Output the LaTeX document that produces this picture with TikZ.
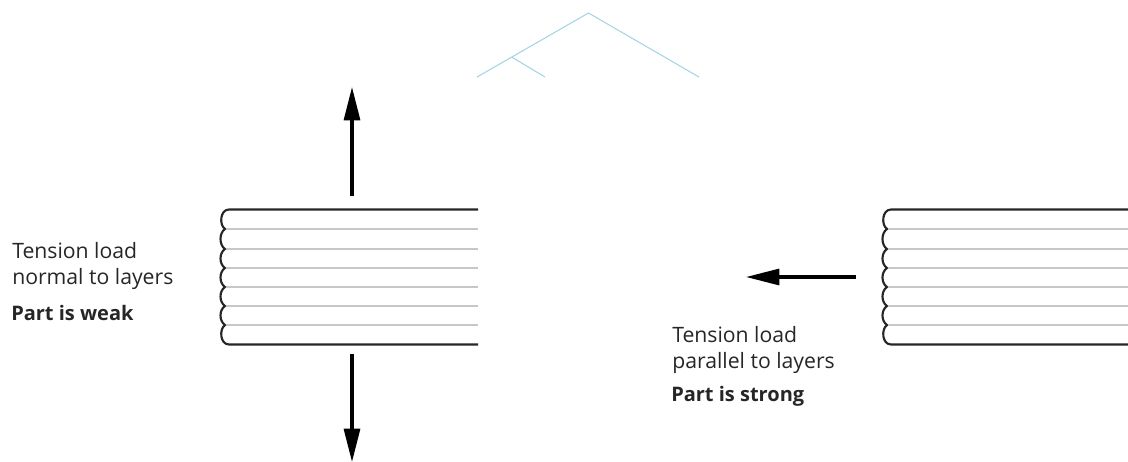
\documentclass[tikz,border=0pt]{standalone}
\usepackage{fontspec}
\setmainfont{Open Sans}
\usetikzlibrary{arrows.meta}
\definecolor{roofblue}{RGB}{165,213,228}
\tikzset{
  x=0.75pt,y=-0.75pt,
  outerline/.style={draw=black!85,line width=1.6pt,line join=round},
  layerline/.style={draw=black!22,line width=1.3pt},
  roofline/.style={draw=roofblue,line width=0.8pt},
  loadarrow/.style={draw=black,line width=2.3pt,-{Triangle[length=25pt,width=12pt]}},
  caption/.style={anchor=west,inner sep=0pt,font=\fontsize{15.9pt}{18pt}\selectfont,text=black!85},
  captionbold/.style={caption,font=\fontsize{15pt}{18pt}\selectfont\bfseries}
}
\newcommand{\layerstack}[2]{%
  \foreach \yy in {229,249,268,287,306,325}{
    \draw[layerline] (#1+4,\yy) -- (#2,\yy);
  }
  \draw[outerline] (#2,209.5) -- (#1+8,209.5)
    .. controls (#1-1,209.5) and (#1-2,225) .. (#1+4,229)
    .. controls (#1-2,233) and (#1-2,245) .. (#1+4,249)
    .. controls (#1-2,253) and (#1-2,264) .. (#1+4,268)
    .. controls (#1-2,272) and (#1-2,283) .. (#1+4,287)
    .. controls (#1-2,291) and (#1-2,302) .. (#1+4,306)
    .. controls (#1-2,310) and (#1-2,321) .. (#1+4,325)
    .. controls (#1-2,329) and (#1-1,344.5) .. (#1+8,344.5)
    -- (#2,344.5);
}
\begin{document}
\begin{tikzpicture}
\useasboundingbox (0,0) rectangle (1128,461);
% roof
\coordinate (roofapex) at (588.5,13);
\coordinate (roofleft) at (477,77);
\coordinate (roofright) at (699,77);
\coordinate (roofjoin) at (511.5,57);
\coordinate (roofbranch) at (545,77);
\draw[roofline] (roofleft) -- (roofapex) -- (roofright);
\draw[roofline] (roofjoin) -- (roofbranch);
% stacks
\layerstack{221}{478}
\layerstack{883}{1128}
% arrows
\coordinate (upstart) at (352,196);
\coordinate (upend) at (352,87);
\coordinate (downstart) at (352,354);
\coordinate (downend) at (352,462);
\coordinate (leftstart) at (856,277);
\coordinate (leftend) at (746,277);
\draw[loadarrow] (upstart) -- (upend);
\draw[loadarrow] (downstart) -- (downend);
\draw[loadarrow] (leftstart) -- (leftend);
% text
\node[caption] (t1) at (12,251) {Tension load};
\node[caption] (t2) at (12,279) {normal to layers};
\node[captionbold] (t3) at (11,313) {Part is weak};
\node[caption] (t4) at (672,335) {Tension load};
\node[caption] (t5) at (672,363) {parallel to layers};
\node[captionbold] (t6) at (671,396.5) {Part is strong};
\end{tikzpicture}
\end{document}
